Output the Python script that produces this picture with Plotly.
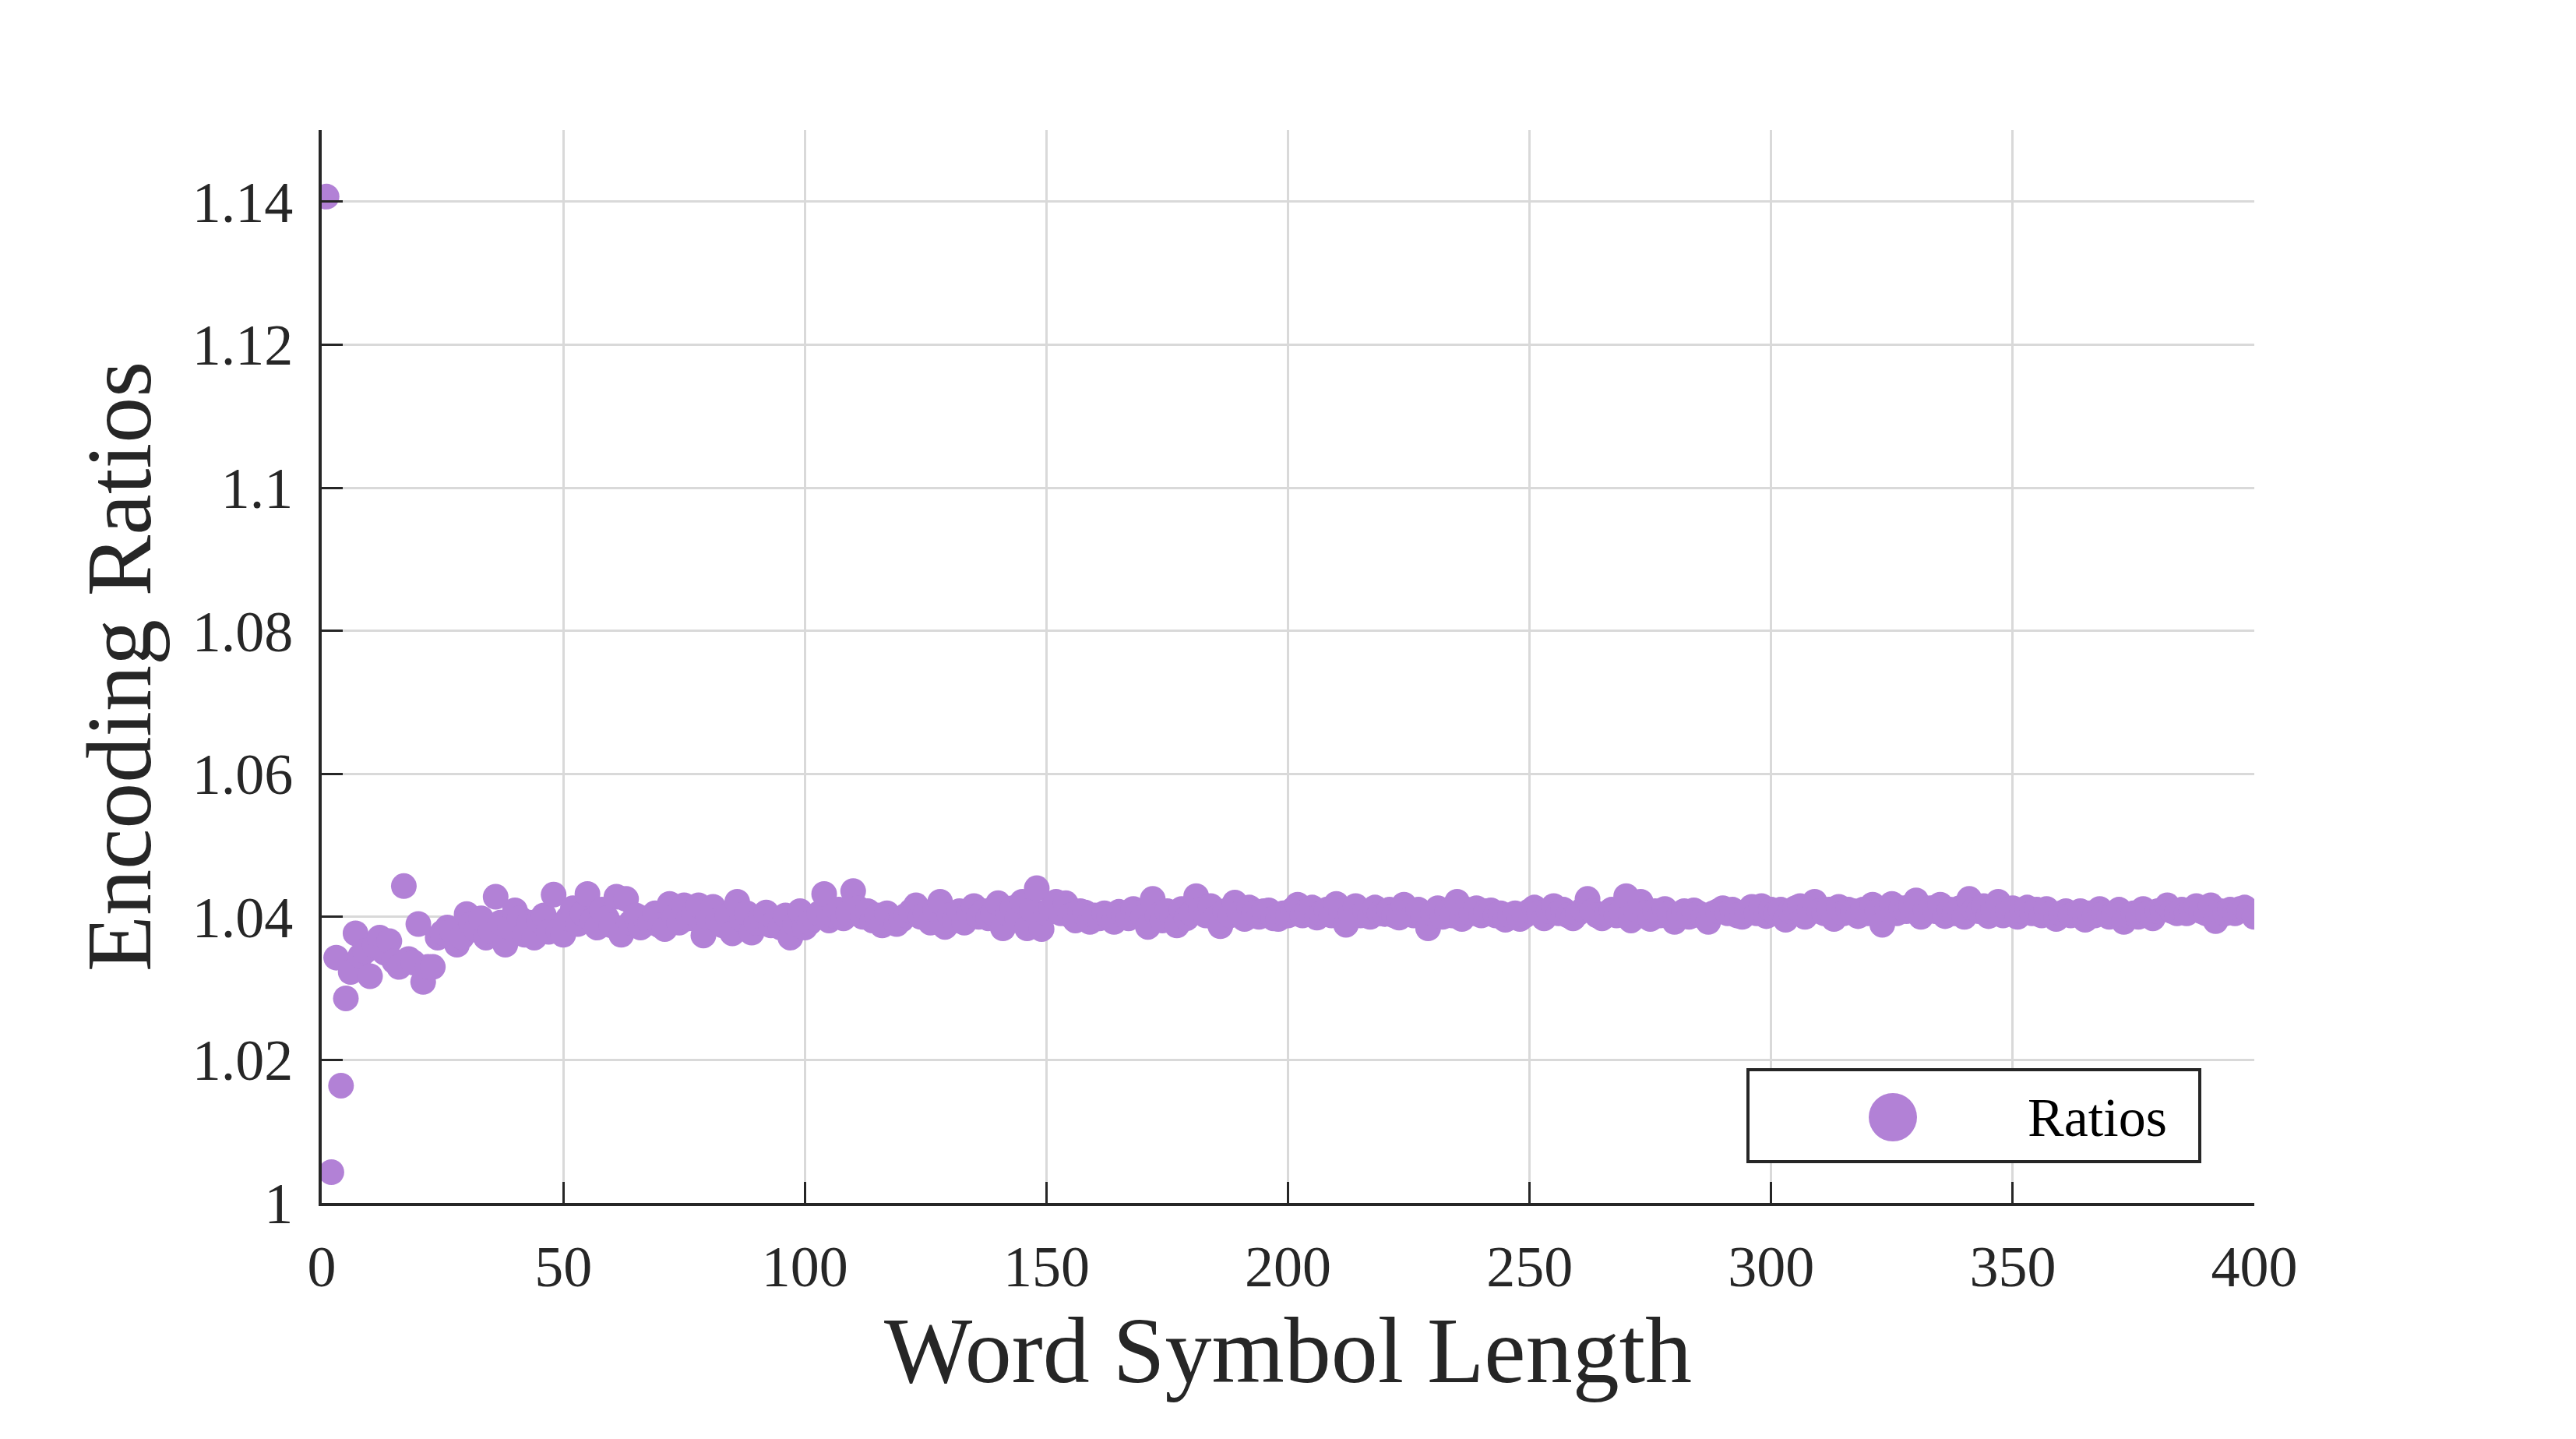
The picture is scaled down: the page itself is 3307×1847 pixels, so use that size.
import plotly.graph_objects as go

# word symbol length (x) and encoding ratio (y)
word_length = list(range(1, 401))

ratios = [
    1.1407, 1.0043, 1.0343, 1.0164, 1.0286, 1.0323, 1.0377, 1.0345, 1.0352, 1.0317,
    1.0360, 1.0371, 1.0350, 1.0366, 1.0338, 1.0330, 1.0443, 1.0341, 1.0336, 1.0390,
    1.0309, 1.0330, 1.0330, 1.0371, 1.0378, 1.0385, 1.0380, 1.0361, 1.0372, 1.0404,
    1.0390, 1.0382, 1.0398, 1.0371, 1.0380, 1.0428, 1.0392, 1.0361, 1.0385, 1.0409,
    1.0398, 1.0375, 1.0392, 1.0371, 1.0395, 1.0402, 1.0379, 1.0431, 1.0380, 1.0375,
    1.0398, 1.0412, 1.0390, 1.0405, 1.0432, 1.0395, 1.0385, 1.0410, 1.0398, 1.0388,
    1.0428, 1.0375, 1.0425, 1.0392, 1.0402, 1.0385, 1.0398, 1.0392, 1.0405, 1.0388,
    1.0383, 1.0418, 1.0400, 1.0392, 1.0416, 1.0398, 1.0405, 1.0416, 1.0374, 1.0400,
    1.0414, 1.0395, 1.0388, 1.0402, 1.0377, 1.0421, 1.0396, 1.0405, 1.0378, 1.0392,
    1.0400, 1.0406, 1.0388, 1.0395, 1.0385, 1.0402, 1.0371, 1.0390, 1.0408, 1.0385,
    1.0392, 1.0398, 1.0405, 1.0432, 1.0395, 1.0402, 1.0410, 1.0398, 1.0405, 1.0436,
    1.0412, 1.0400, 1.0408, 1.0395, 1.0402, 1.0388, 1.0405, 1.0398, 1.0390, 1.0396,
    1.0402, 1.0408, 1.0416, 1.0400, 1.0405, 1.0392, 1.0410, 1.0421, 1.0386, 1.0402,
    1.0395, 1.0408, 1.0392, 1.0405, 1.0415, 1.0400, 1.0408, 1.0398, 1.0405, 1.0419,
    1.0384, 1.0405, 1.0412, 1.0398, 1.0421, 1.0384, 1.0410, 1.0440, 1.0383, 1.0405,
    1.0412, 1.0421, 1.0405, 1.0419, 1.0402, 1.0395, 1.0408, 1.0406, 1.0393, 1.0402,
    1.0398, 1.0405, 1.0400, 1.0393, 1.0407, 1.0402, 1.0398, 1.0411, 1.0405, 1.0400,
    1.0386, 1.0425, 1.0402, 1.0395, 1.0408, 1.0400, 1.0388, 1.0411, 1.0398, 1.0405,
    1.0429, 1.0410, 1.0402, 1.0415, 1.0398, 1.0387, 1.0408, 1.0402, 1.0420, 1.0405,
    1.0397, 1.0413, 1.0405, 1.0400, 1.0408, 1.0409, 1.0398, 1.0397, 1.0405, 1.0402,
    1.0410, 1.0417, 1.0402, 1.0408, 1.0413, 1.0399, 1.0405, 1.0410, 1.0402, 1.0418,
    1.0408, 1.0389, 1.0405, 1.0415, 1.0402, 1.0408, 1.0400, 1.0413, 1.0405, 1.0404,
    1.0410, 1.0402, 1.0399, 1.0417, 1.0408, 1.0402, 1.0410, 1.0400, 1.0384, 1.0405,
    1.0412, 1.0400, 1.0408, 1.0402, 1.0421, 1.0397, 1.0410, 1.0405, 1.0412, 1.0402,
    1.0408, 1.0409, 1.0402, 1.0405, 1.0396, 1.0402, 1.0405, 1.0397, 1.0402, 1.0408,
    1.0413, 1.0405, 1.0398, 1.0408, 1.0415, 1.0405, 1.0410, 1.0402, 1.0398, 1.0405,
    1.0410, 1.0425, 1.0408, 1.0402, 1.0398, 1.0405, 1.0410, 1.0402, 1.0408, 1.0429,
    1.0395, 1.0410, 1.0421, 1.0405, 1.0397, 1.0408, 1.0402, 1.0411, 1.0405, 1.0393,
    1.0402, 1.0408, 1.0400, 1.0409, 1.0405, 1.0400, 1.0393, 1.0405, 1.0408, 1.0412,
    1.0405, 1.0410, 1.0402, 1.0400, 1.0408, 1.0414, 1.0405, 1.0415, 1.0401, 1.0410,
    1.0405, 1.0410, 1.0396, 1.0408, 1.0412, 1.0415, 1.0400, 1.0410, 1.0421, 1.0408,
    1.0405, 1.0410, 1.0397, 1.0414, 1.0405, 1.0410, 1.0408, 1.0401, 1.0410, 1.0405,
    1.0417, 1.0408, 1.0389, 1.0410, 1.0418, 1.0405, 1.0412, 1.0408, 1.0415, 1.0423,
    1.0400, 1.0410, 1.0412, 1.0408, 1.0417, 1.0401, 1.0410, 1.0405, 1.0412, 1.0400,
    1.0425, 1.0410, 1.0408, 1.0415, 1.0401, 1.0410, 1.0421, 1.0402, 1.0410, 1.0412,
    1.0400, 1.0408, 1.0413, 1.0405, 1.0410, 1.0402, 1.0411, 1.0405, 1.0397, 1.0405,
    1.0408, 1.0402, 1.0405, 1.0408, 1.0396, 1.0405, 1.0402, 1.0411, 1.0405, 1.0400,
    1.0405, 1.0410, 1.0393, 1.0402, 1.0405, 1.0400, 1.0411, 1.0405, 1.0398, 1.0408,
    1.0410, 1.0416, 1.0408, 1.0405, 1.0410, 1.0405, 1.0410, 1.0415, 1.0408, 1.0405,
    1.0416, 1.0394, 1.0408, 1.0405, 1.0410, 1.0405, 1.0411, 1.0413, 1.0408, 1.0400,
]

x_ticks = [0, 50, 100, 150, 200, 250, 300, 350, 400]
y_ticks = [1.0, 1.02, 1.04, 1.06, 1.08, 1.10, 1.12, 1.14]
y_tick_labels = ["1", "1.02", "1.04", "1.06", "1.08", "1.1", "1.12", "1.14"]

purple = "rgb(178,129,214)"
ink = "#262626"
font = "Liberation Serif"

fig = go.Figure()

fig.add_trace(
    go.Scatter(
        x=word_length,
        y=ratios,
        mode="markers",
        name="Ratios",
        marker=dict(color=purple, size=33, line=dict(width=0)),
        showlegend=False
    )
)

axis_common = dict(
    showline=True,
    linecolor=ink,
    linewidth=4,
    ticks="inside",
    ticklen=27,
    tickwidth=3,
    tickcolor=ink,
    showgrid=True,
    gridcolor="#d9d9d9",
    gridwidth=3,
    zeroline=False,
    mirror=False,
    tickfont=dict(family=font, size=74, color=ink),
)

fig.update_xaxes(
    range=[0, 400],
    tickvals=x_ticks,
    ticklabelstandoff=14,
    title=dict(text="Word Symbol Length", font=dict(family=font, size=120, color=ink), standoff=6),
    **axis_common
)

fig.update_yaxes(
    range=[1.0, 1.15],
    tickvals=y_ticks,
    ticktext=y_tick_labels,
    ticklabelstandoff=18,
    title=dict(text="Encoding Ratios", font=dict(family=font, size=118, color=ink), standoff=14),
    **axis_common
)

# plot box in page pixels (the page body adds an 8px offset)
px_l, px_r, px_t, px_b = 405, 2886, 159, 1536
pw, ph = px_r - px_l, px_b - px_t


def to_paper(px, py):
    return (px - px_l) / pw, (px_b - py) / ph


# MATLAB-like legend box, drawn by hand so the marker can be full size
bx0, by0 = to_paper(2236, 1483)
bx1, by1 = to_paper(2816, 1365)
fig.add_shape(type="rect", xref="paper", yref="paper", x0=bx0, x1=bx1, y0=by0, y1=by1,
              line=dict(color=ink, width=4), fillcolor="white", layer="above")
cx0, cy0 = to_paper(2422 - 31, 1426 + 31)
cx1, cy1 = to_paper(2422 + 31, 1426 - 31)
fig.add_shape(type="circle", xref="paper", yref="paper", x0=cx0, x1=cx1, y0=cy0, y1=cy1,
              line=dict(width=0), fillcolor=purple, layer="above")
tx, ty = to_paper(2776, 1426)
fig.add_annotation(xref="paper", yref="paper", x=tx, y=ty,
                   xanchor="right", yanchor="middle", showarrow=False,
                   text="Ratios", font=dict(family=font, size=70, color="black"))

fig.update_layout(
    width=3307,
    height=1847,
    margin=dict(l=px_l, r=3307 - px_r, t=px_t, b=1847 - px_b, autoexpand=False),
    plot_bgcolor="white",
    paper_bgcolor="white",
)

fig.write_html("out.html")
